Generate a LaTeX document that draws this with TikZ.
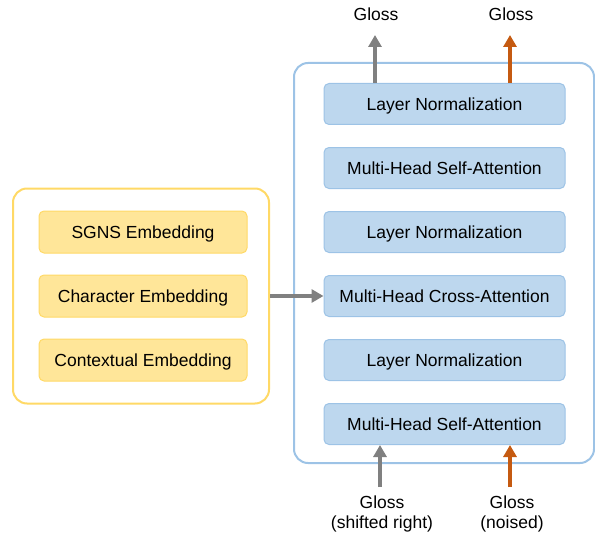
\documentclass[tikz,border=0pt]{standalone}
\usepackage{fontspec}
\setmainfont{Liberation Sans}
\usetikzlibrary{arrows.meta}
\usetikzlibrary{positioning}

\definecolor{boxblue}{HTML}{BDD7EE}
\definecolor{lineblue}{HTML}{9DC3E6}
\definecolor{boxyellow}{HTML}{FFE699}
\definecolor{lineyellow}{HTML}{FFD966}
\definecolor{arrowgray}{HTML}{808080}
\definecolor{arroworange}{HTML}{C55A11}

\tikzset{
  layer/.style={draw=lineblue, fill=boxblue, rounded corners=5pt, line width=1pt,
    minimum width=241pt, minimum height=41pt, inner sep=0pt,
    text height=12.6pt, text depth=0pt},
  embed/.style={draw=lineyellow, fill=boxyellow, rounded corners=5pt, line width=1pt,
    minimum width=208pt, minimum height=42pt, inner sep=0pt,
    text height=12.6pt, text depth=0pt},
  group/.style={line width=2pt, rounded corners=14pt, inner sep=0pt},
  flow/.style={line width=4pt, -{Triangle[width=13pt,length=12pt]}},
}

\begin{document}
\begin{tikzpicture}[x=1pt, y=-1pt, font=\fontsize{17.5}{20}\selectfont]
  \useasboundingbox (0,0) rectangle (595,535);

  \node [group, draw=lineblue, minimum width=300pt, minimum height=400pt] (decoder) at (444,263) {};
  \node [group, draw=lineyellow, minimum width=256pt, minimum height=215pt] (encoder) at (141,296) {};

  \node [layer] (norm1) at (444.5,104) {Layer Normalization};
  \node [layer, below=22pt of norm1] (self1) {Multi-Head Self-Attention};
  \node [layer, below=22pt of self1] (norm2) {Layer Normalization};
  \node [layer, below=22pt of norm2] (cross) {Multi-Head Cross-Attention};
  \node [layer, below=22pt of cross] (norm3) {Layer Normalization};
  \node [layer, below=22pt of norm3] (self2) {Multi-Head Self-Attention};

  \node [embed] (char) at (143,296) {Character Embedding};
  \node [embed, above=21pt of char] (sgns) {SGNS Embedding};
  \node [embed, below=21pt of char] (context) {Contextual Embedding};

  \node (glossout) at (376,14) {Gloss};
  \node (glossden) at (511,14) {Gloss};
  \coordinate (outtip) at (375,35);
  \coordinate (dentip) at (510,35);

  \node [align=center] (glossin) at (382,513.5) {Gloss\\(shifted right)};
  \node [align=center] (glossnoise) at (512,513.5) {Gloss\\(noised)};
  \coordinate (intail) at (380,487);
  \coordinate (noisetail) at (510,487);

  \draw [flow, arrowgray] (norm1.north -| outtip) -- (outtip);
  \draw [flow, arroworange] (norm1.north -| dentip) -- (dentip);
  \draw [flow, arrowgray] (intail) -- (self2.south -| intail);
  \draw [flow, arroworange] (noisetail) -- (self2.south -| noisetail);
  \draw [flow, arrowgray] (encoder.east) -- (cross.west);
\end{tikzpicture}
\end{document}
